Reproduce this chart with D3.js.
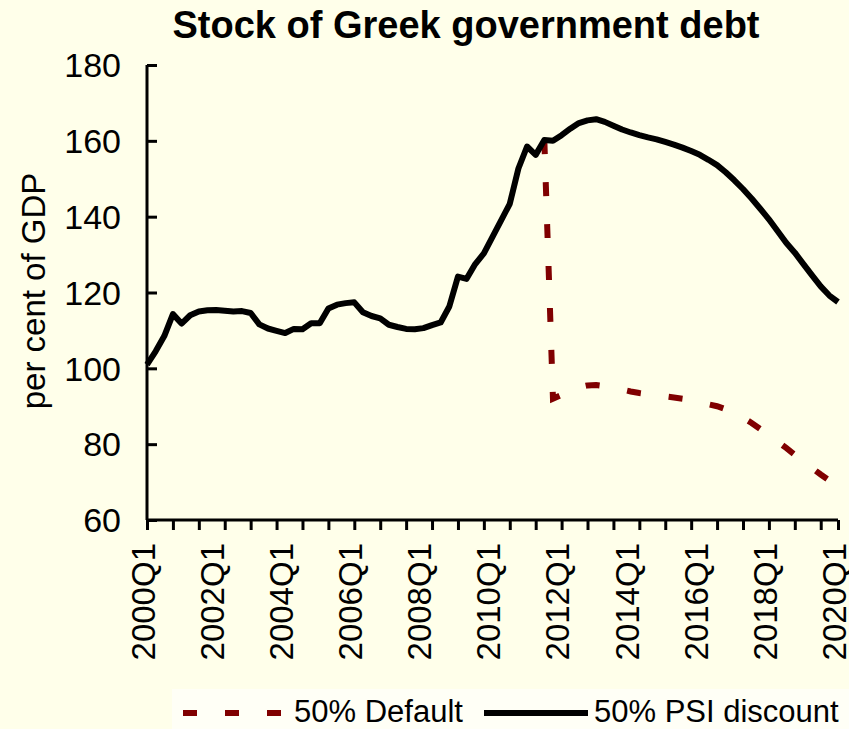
<!DOCTYPE html>
<html>
<head>
<meta charset="utf-8">
<script src="https://cdn.jsdelivr.net/npm/d3@7"></script>
<style>
  body { margin: 0; background: #ffffea; }
  svg { display: block; font-family: "Liberation Sans", Arial, sans-serif; }
</style>
</head>
<body>
<svg id="chart"></svg>
<script>
const width = 849;
const height = 729;

// quarters 2000Q1 .. 2020Q1
const quarters = [];
for (let y = 2000; y <= 2020; y++) {
  for (let q = 1; q <= 4; q++) {
    if (y === 2020 && q > 1) break;
    quarters.push(y + "Q" + q);
  }
}

const tickLabels = ["2000Q1", "2002Q1", "2004Q1", "2006Q1", "2008Q1", "2010Q1",
  "2012Q1", "2014Q1", "2016Q1", "2018Q1", "2020Q1"];
const yTicks = [60, 80, 100, 120, 140, 160, 180];

// 50% PSI discount, 2000Q1 .. 2020Q1
const psiValues = [
  101.0, 104.5, 108.5, 114.3, 111.8, 114.0, 115.0, 115.3, 115.4, 115.2,
  115.0, 115.1, 114.6, 111.6, 110.5, 109.9, 109.3, 110.4, 110.3, 111.9,
  111.9, 115.8, 116.8, 117.2, 117.4, 114.8, 113.8, 113.2, 111.5, 110.9,
  110.4, 110.3, 110.6, 111.4, 112.1, 116.3, 124.2, 123.6, 127.5, 130.3,
  134.7, 139.0, 143.4, 152.7, 158.5, 156.3, 160.2, 160.0, 161.5, 163.2,
  164.7, 165.4, 165.7, 165.0, 164.0, 163.0, 162.2, 161.5, 160.9, 160.4,
  159.7, 159.0, 158.2, 157.3, 156.3, 155.0, 153.6, 151.7, 149.6, 147.3,
  144.8, 142.1, 139.3, 136.2, 133.1, 130.5, 127.5, 124.5, 121.6, 119.2,
  117.5
];

// 50% Default, 2011Q3 .. 2020Q1
const defaultStart = "2011Q3";
const defaultValues = [
  160.2, 92.0, 93.0, 94.0, 95.0, 95.5, 95.6, 95.3, 94.9, 94.4,
  93.9, 93.5, 93.2, 92.9, 92.6, 92.3, 92.0, 91.6, 91.1, 90.5,
  90.0, 89.2, 88.2, 87.0, 85.6, 84.0, 82.4, 80.7, 79.0, 77.2,
  75.5, 73.7, 72.0, 70.4, 69.0
];

const margin = { left: 147, right: 11, top: 65, bottom: 209 };

const svg = d3.select("#chart").attr("width", width).attr("height", height);

svg.append("rect").attr("width", width).attr("height", height).attr("fill", "#ffffea");

const x = d3.scaleLinear()
  .domain([0, quarters.length - 1])
  .range([margin.left, width - margin.right]);

const y = d3.scaleLinear()
  .domain([60, 180])
  .range([height - margin.bottom, margin.top]);

// title
svg.append("text")
  .attr("x", 466)
  .attr("y", 38)
  .attr("text-anchor", "middle")
  .style("font-size", "38px")
  .style("font-weight", "bold")
  .text("Stock of Greek government debt");

// y axis
const yAxis = svg.append("g")
  .attr("transform", `translate(${margin.left},0)`)
  .call(d3.axisRight(y).tickValues(yTicks).tickSize(10).tickFormat(""));
yAxis.select(".domain").attr("d", `M0,${y(180)}V${y(60)}`);
yAxis.selectAll("path, line").attr("stroke", "#000").attr("stroke-width", 3);

svg.selectAll(".ylab")
  .data(yTicks)
  .enter()
  .append("text")
  .attr("class", "ylab")
  .attr("x", 121)
  .attr("y", (d) => y(d))
  .attr("dy", "0.36em")
  .attr("text-anchor", "end")
  .style("font-size", "34px")
  .text((d) => d);

svg.append("text")
  .attr("transform", `translate(45, ${291}) rotate(-90)`)
  .attr("text-anchor", "middle")
  .style("font-size", "33px")
  .text("per cent of GDP");

// x axis: tick marks every 3 quarters, labels every 8
const tickIdx = d3.range(0, quarters.length, 3).concat([quarters.length - 1]);
const xAxis = svg.append("g")
  .attr("transform", `translate(0,${y(60)})`)
  .call(d3.axisBottom(x).tickValues(tickIdx).tickSize(10).tickFormat(""));
xAxis.select(".domain").attr("d", `M${x(0)},0H${x(quarters.length - 1)}`);
xAxis.selectAll("path, line").attr("stroke", "#000").attr("stroke-width", 3);

svg.selectAll(".xlab")
  .data(tickLabels)
  .enter()
  .append("text")
  .attr("class", "xlab")
  .attr("transform", (d) => `translate(${x(quarters.indexOf(d)) - 3},543) rotate(-90)`)
  .attr("dy", "0.33em")
  .attr("text-anchor", "end")
  .style("font-size", "33px")
  .text((d) => d);

// lines
const line = d3.line()
  .x((d) => x(d.i))
  .y((d) => y(d.v));

const i0 = quarters.indexOf(defaultStart);
const defaultData = defaultValues.map((v, k) => ({ i: i0 + k, v }));
const psiData = psiValues.map((v, k) => ({ i: k, v }));

svg.append("path")
  .datum(defaultData)
  .attr("d", line)
  .attr("fill", "none")
  .attr("stroke", "#800000")
  .attr("stroke-width", 6)
  .attr("stroke-dasharray", "14 28");

svg.append("path")
  .datum(psiData)
  .attr("d", line)
  .attr("fill", "none")
  .attr("stroke", "#000")
  .attr("stroke-width", 6)
  .attr("stroke-linejoin", "round");

// legend
const legend = svg.append("g");
legend.append("rect")
  .attr("x", 172).attr("y", 689)
  .attr("width", width - 172).attr("height", height - 689)
  .attr("fill", "#fffff6");

legend.append("line")
  .attr("x1", 183).attr("x2", 282)
  .attr("y1", 713).attr("y2", 713)
  .attr("stroke", "#800000").attr("stroke-width", 6)
  .attr("stroke-dasharray", "14 28");
legend.append("text")
  .attr("x", 294).attr("y", 722)
  .style("font-size", "31px")
  .text("50% Default");

legend.append("line")
  .attr("x1", 484).attr("x2", 588)
  .attr("y1", 713).attr("y2", 713)
  .attr("stroke", "#000").attr("stroke-width", 6);
legend.append("text")
  .attr("x", 594).attr("y", 722)
  .style("font-size", "31px")
  .text("50% PSI discount");
</script>
</body>
</html>
